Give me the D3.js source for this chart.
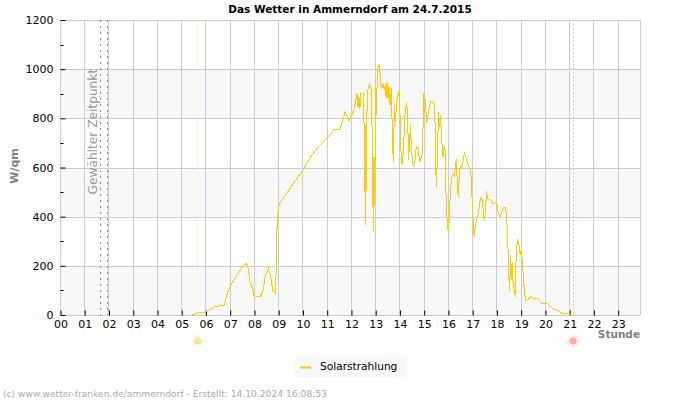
<!DOCTYPE html>
<html>
<head>
<meta charset="utf-8">
<script src="https://cdn.jsdelivr.net/npm/d3@7"></script>
<style>
  body { margin: 0; background: #fff; }
  text { font-family: "DejaVu Sans", sans-serif; }
</style>
</head>
<body>
<div id="chart"></div>
<script>
const WIDTH = 700;
const HEIGHT = 400;
const MARGIN = { top: 20, bottom: 85, right: 60, left: 60.5 };

// Stunde des Messwerts
const hours = [
  5.42, 5.75, 6.0, 6.37, 6.75, 6.88, 7.0, 7.55, 7.68, 7.75, 7.82, 7.89, 8.0, 8.26, 8.34, 8.44, 8.57, 8.67, 8.75, 8.85, 8.9, 8.92, 8.94, 8.98, 9.05, 9.5,
  10.0, 10.3, 10.6, 11.0, 11.12, 11.28, 11.53, 11.74, 11.9, 12.08, 12.24, 12.27, 12.31, 12.35, 12.38, 12.49, 12.52, 12.55, 12.56, 12.59, 12.62, 12.67,
  12.74, 12.82, 12.85, 12.88, 12.91, 12.93, 12.96, 12.99, 13.03, 13.07, 13.15, 13.21, 13.25, 13.29, 13.36, 13.4, 13.43, 13.47, 13.51, 13.55, 13.59,
  13.65, 13.69, 13.73, 13.77, 13.81, 13.87, 13.98, 14.03, 14.09, 14.14, 14.21, 14.27, 14.32, 14.35, 14.39, 14.43, 14.47, 14.53, 14.6, 14.67, 14.73,
  14.83, 14.91, 14.94, 14.99, 15.04, 15.1, 15.19, 15.28, 15.38, 15.42, 15.45, 15.48, 15.5, 15.53, 15.59, 15.63, 15.66, 15.7, 15.74, 15.78, 15.81,
  15.85, 15.88, 15.9, 15.94, 15.97, 16.0, 16.03, 16.07, 16.11, 16.16, 16.25, 16.29, 16.33, 16.37, 16.41, 16.45, 16.49, 16.53, 16.58, 16.62, 16.66,
  16.73, 16.82, 16.92, 16.96, 16.99, 17.03, 17.06, 17.1, 17.17, 17.24, 17.3, 17.35, 17.4, 17.44, 17.48, 17.53, 17.57, 17.61, 17.68, 17.76, 17.83,
  17.99, 18.06, 18.12, 18.2, 18.27, 18.36, 18.41, 18.45, 18.48, 18.52, 18.57, 18.6, 18.63, 18.65, 18.71, 18.77, 18.79, 18.85, 18.9, 18.96, 19.0,
  19.05, 19.1, 19.14, 19.2, 19.3, 19.41, 19.51, 19.69, 19.85, 20.06, 20.33, 20.54, 20.68, 20.95, 21.09
];

// Solarstrahlung in W/qm
const solar = [
  1, 10, 12, 34, 41, 88, 119, 203, 210, 183, 130, 115, 72, 77, 95, 156, 190, 156, 102, 88, 183, 350, 350, 434, 454, 520,
  590, 640, 680, 722, 732, 755, 755, 827, 790, 827, 902, 845, 885, 840, 902, 902, 769, 502, 769, 366, 769, 915,
  936, 915, 759, 481, 339, 644, 447, 929, 814, 997, 1021, 936, 918, 942, 915, 936, 881, 949, 881, 929, 854,
  922, 705, 620, 854, 786, 875, 915, 685, 610, 664, 820, 868, 814, 630, 685, 777, 685, 610, 603, 685, 678,
  624, 651, 719, 904, 875, 780, 834, 868, 865, 854, 773, 597, 519, 603, 824, 766, 814, 753, 685, 644, 678,
  692, 617, 488, 400, 359, 332, 386, 481, 536, 570, 563, 610, 633, 515, 475, 576, 606, 597, 610, 641, 658,
  637, 606, 593, 508, 434, 359, 319, 353, 393, 414, 461, 479, 468, 414, 386, 420, 506, 475, 471, 468, 454,
  458, 414, 397, 420, 437, 439, 380, 298, 170, 99, 244, 142, 210, 142, 102, 75, 244, 308, 292, 244, 264,
  210, 142, 88, 58, 64, 75, 68, 66, 48, 48, 23, 18, 7, 4, 0
];

const hourTicks = d3.range(0, 24);
const valueTicks = [0, 200, 400, 600, 800, 1000, 1200];
const minorTicks = [100, 300, 500, 700, 900, 1100];
const bands = [[800, 1000], [400, 600], [0, 200]];
const selectedTimes = [1.65, 1.92];
const sunrise = 5.65;
const sunset = 21.14;

const x = d3.scaleLinear().domain([0, 23.9]).range([MARGIN.left, WIDTH - MARGIN.right]);
const y = d3.scaleLinear().domain([0, 1200]).range([HEIGHT - MARGIN.bottom, MARGIN.top]);

const svg = d3.select('#chart')
  .append('svg')
  .attr('width', WIDTH)
  .attr('height', HEIGHT);

// Streifen im Hintergrund
svg.selectAll('.band')
  .data(bands)
  .join('rect')
  .attr('fill', '#f8f8f8')
  .attr('x', x(0))
  .attr('width', x(23.9) - x(0))
  .attr('y', d => y(d[1]))
  .attr('height', d => y(d[0]) - y(d[1]));

// Gitter
svg.selectAll('.vgrid')
  .data(hourTicks.concat([23.9]))
  .join('line')
  .attr('x1', d => Math.floor(x(d)) + 0.5)
  .attr('x2', d => Math.floor(x(d)) + 0.5)
  .attr('y1', y(1200))
  .attr('y2', y(0))
  .attr('stroke', '#cccccc');

svg.selectAll('.hgrid')
  .data(valueTicks)
  .join('line')
  .attr('x1', x(0))
  .attr('x2', x(23.9))
  .attr('y1', d => Math.round(y(d)) + 0.5)
  .attr('y2', d => Math.round(y(d)) + 0.5)
  .attr('stroke', '#cccccc');

// Achsen
const xAxis = svg.append('g')
  .attr('transform', `translate(0,${Math.round(y(0)) + 0.5})`)
  .call(d3.axisBottom(x).tickValues(hourTicks).tickSize(-5).tickPadding(5).tickFormat(d3.format('02d')));
xAxis.select('.domain').remove();

const yAxis = svg.append('g')
  .attr('transform', `translate(${Math.floor(x(0)) + 0.5},0)`)
  .call(d3.axisLeft(y).tickValues(valueTicks).tickSize(-5).tickPadding(7).tickFormat(d3.format('d')));
yAxis.select('.domain').remove();

svg.selectAll('.minor')
  .data(minorTicks)
  .join('line')
  .attr('x1', x(0))
  .attr('x2', x(0) + 3)
  .attr('y1', d => Math.round(y(d)) + 0.5)
  .attr('y2', d => Math.round(y(d)) + 0.5)
  .attr('stroke', '#000');

svg.selectAll('.tick text')
  .attr('font-size', 11)
  .attr('font-family', '"DejaVu Sans", sans-serif')
  .attr('fill', '#000');

// Gewaehlter Zeitpunkt
svg.selectAll('.selected')
  .data(selectedTimes)
  .join('line')
  .attr('x1', d => Math.floor(x(d)) + 0.5)
  .attr('x2', d => Math.floor(x(d)) + 0.5)
  .attr('y1', y(1200))
  .attr('y2', y(0))
  .attr('stroke', '#888')
  .attr('stroke-dasharray', '2,4');

svg.append('text')
  .attr('transform', `translate(${x(1.65) - 4},${y(600) + 27}) rotate(-90)`)
  .attr('font-size', 12.2)
  .attr('fill', '#999')
  .text('Gewählter Zeitpunkt');

// Sonnenaufgang / -untergang
const sunColors = [[sunrise, '#fbeea0', '#fde28f'], [sunset, '#f5c4b0', '#ffab8f']];

svg.selectAll('.sunline')
  .data(sunColors)
  .join('line')
  .attr('x1', d => Math.floor(x(d[0])) + 0.5)
  .attr('x2', d => Math.floor(x(d[0])) + 0.5)
  .attr('y1', y(1200))
  .attr('y2', y(0))
  .attr('stroke', d => d[1])
  .attr('stroke-dasharray', '2,2');

const sunIcons = svg.selectAll('.sun')
  .data(sunColors)
  .join('g')
  .attr('transform', d => `translate(${x(d[0])},341)`);

sunIcons.append('circle')
  .attr('r', 3.6)
  .attr('fill', d => d[2]);

sunIcons.selectAll('line')
  .data(d => d3.range(0, 8).map(i => ({ angle: i * Math.PI / 4, color: d[2] })))
  .join('line')
  .attr('x1', d => Math.cos(d.angle) * 4)
  .attr('y1', d => Math.sin(d.angle) * 4)
  .attr('x2', d => Math.cos(d.angle) * 6)
  .attr('y2', d => Math.sin(d.angle) * 6)
  .attr('stroke', d => d.color)
  .attr('stroke-width', 0.8);

// Messkurve
const line = d3.line()
  .x(d => x(d))
  .y((_, i) => y(solar[i]));

svg.append('path')
  .datum(hours)
  .attr('fill', 'none')
  .attr('stroke', '#ffcc00')
  .attr('stroke-width', 1)
  .attr('shape-rendering', 'crispEdges')
  .attr('d', line);

// Beschriftung
svg.append('text')
  .attr('x', 350)
  .attr('y', 12.5)
  .attr('text-anchor', 'middle')
  .attr('font-size', 10.5)
  .attr('font-weight', 'bold')
  .text('Das Wetter in Ammerndorf am 24.7.2015');

svg.append('text')
  .attr('transform', 'translate(18,166) rotate(-90)')
  .attr('text-anchor', 'middle')
  .attr('font-size', 11)
  .attr('font-weight', 'bold')
  .attr('fill', '#808080')
  .text('W/qm');

svg.append('text')
  .attr('x', 640)
  .attr('y', 338)
  .attr('text-anchor', 'end')
  .attr('font-size', 10.5)
  .attr('font-weight', 'bold')
  .attr('fill', '#808080')
  .text('Stunde');

// Legende
svg.append('rect')
  .attr('x', 295)
  .attr('y', 356)
  .attr('width', 112)
  .attr('height', 21)
  .attr('fill', '#f8f8f8');

svg.append('line')
  .attr('x1', 300)
  .attr('x2', 311)
  .attr('y1', 367.5)
  .attr('y2', 367.5)
  .attr('stroke', '#ffcc00')
  .attr('stroke-width', 2);

svg.append('text')
  .attr('x', 320)
  .attr('y', 370)
  .attr('font-size', 10.6)
  .text('Solarstrahlung');

svg.append('text')
  .attr('x', 3)
  .attr('y', 397)
  .attr('font-size', 9.15)
  .attr('fill', '#aaaaaa')
  .text('(c) www.wetter-franken.de/ammerndorf - Erstellt: 14.10.2024 16:08:53');
</script>
</body>
</html>
